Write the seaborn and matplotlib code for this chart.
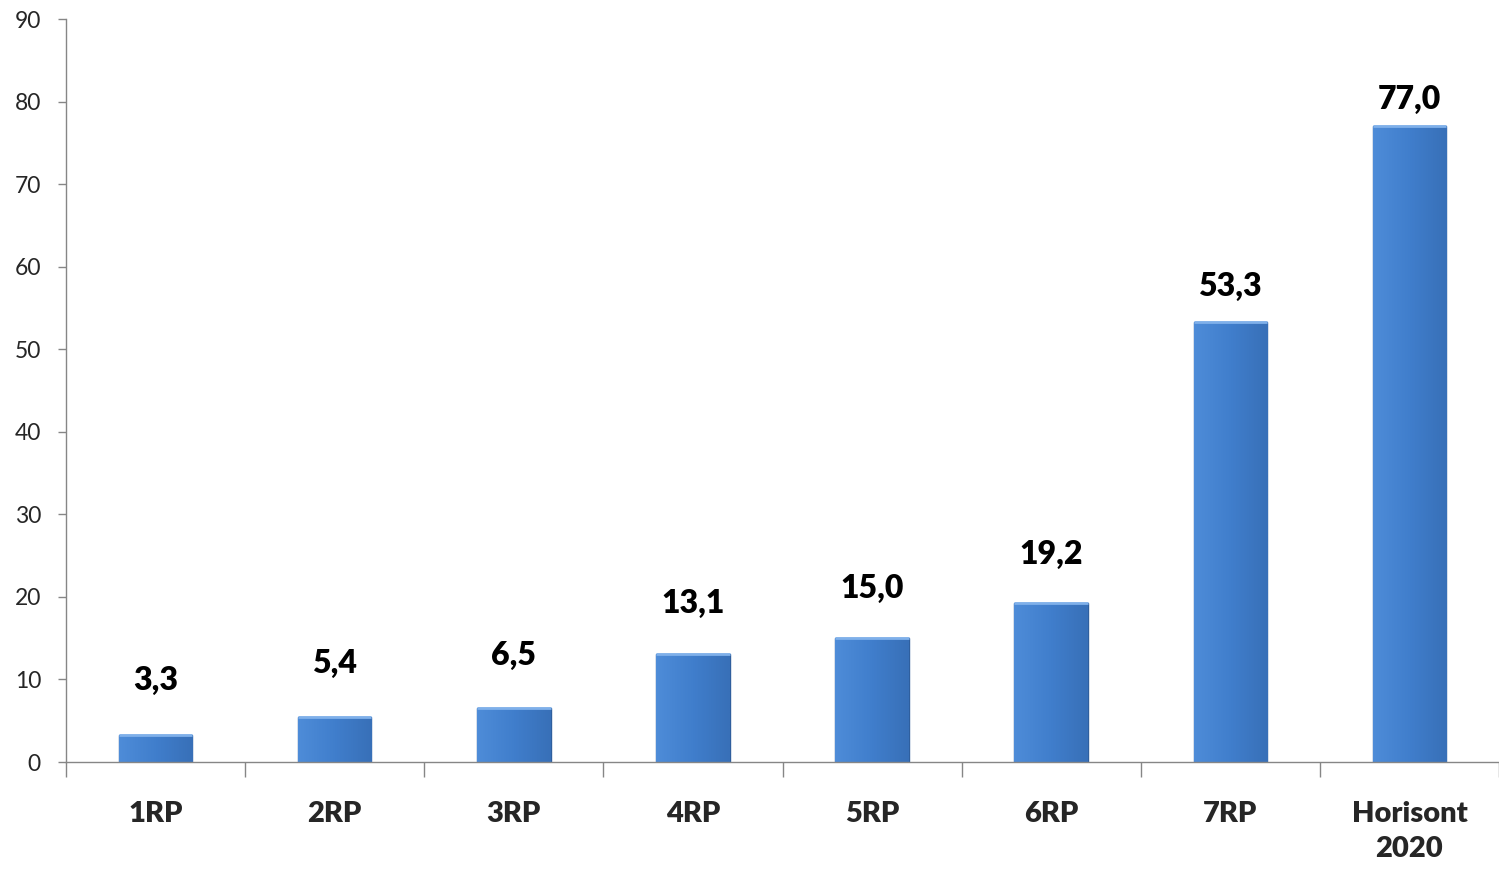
import numpy as np
import pandas as pd
import matplotlib
matplotlib.use("Agg")
import matplotlib.pyplot as plt
from matplotlib.colors import LinearSegmentedColormap
import seaborn as sns

categories = ["1RP", "2RP", "3RP", "4RP", "5RP", "6RP", "7RP", "Horisont\n2020"]
values = [3.3, 5.4, 6.5, 13.1, 15.0, 19.2, 53.3, 77.0]
labels = ["3,3", "5,4", "6,5", "13,1", "15,0", "19,2", "53,3", "77,0"]

df = pd.DataFrame({"cat": categories, "val": values})

sns.set_style("white")
plt.rcParams["font.family"] = ["Lato", "DejaVu Sans"]

fig = plt.figure(figsize=(14.99, 8.72), dpi=100)
ax = fig.add_axes([66 / 1499, 110 / 872, (1499 - 66) / 1499, 743 / 872])

sns.barplot(data=df, x="cat", y="val", color="#4382D0", width=0.41,
            edgecolor="#2F5F9E", linewidth=1.0, saturation=1, ax=ax)

# gradient shading on the bars
grad = LinearSegmentedColormap.from_list("g", ["#4E8CD8", "#407ECC", "#3870B8"])
for p in ax.patches:
    x0, y0 = p.get_x(), p.get_y()
    w, h = p.get_width(), p.get_height()
    im = ax.imshow(np.linspace(0, 1, 64).reshape(1, -1), cmap=grad, aspect="auto",
                   extent=[x0, x0 + w, y0, y0 + h], zorder=p.get_zorder() + 0.1)
    im.set_clip_path(p)
    ax.plot([x0, x0 + w], [y0 + h, y0 + h], color="#7FB0EA", lw=2.0,
            zorder=p.get_zorder() + 0.2, solid_capstyle="butt")

# label gap shrinks a bit on the taller bars, as in the original
for i, (v, t) in enumerate(zip(values, labels)):
    ax.text(i, v + 5.6 - 0.045 * v, t, ha="center", va="baseline", fontsize=23,
            fontweight="heavy", color="black")

ax.set_xlim(-0.5, -0.5 + (1499 - 66) / 180)
ax.set_ylim(0, 90)
ax.set_yticks(range(0, 91, 10))
ax.set_xlabel("")
ax.set_ylabel("")

ax.tick_params(axis="y", labelsize=16.5, length=6, width=1, color="#868686",
               direction="out", left=True, pad=12)
ax.tick_params(axis="x", which="major", length=0, labelsize=21, pad=28)
for lab in ax.get_xticklabels():
    lab.set_fontweight("heavy")
    lab.set_linespacing(1.45)
ax.set_xticks(np.arange(-0.5, 8.0, 1.0), minor=True)
ax.tick_params(axis="x", which="minor", length=11, width=1, color="#868686",
               direction="out", bottom=True)

for s in ["top", "right"]:
    ax.spines[s].set_visible(False)
for s in ["left", "bottom"]:
    ax.spines[s].set_color("#868686")
    ax.spines[s].set_linewidth(1.0)

fig.savefig("out.png", dpi=100)
